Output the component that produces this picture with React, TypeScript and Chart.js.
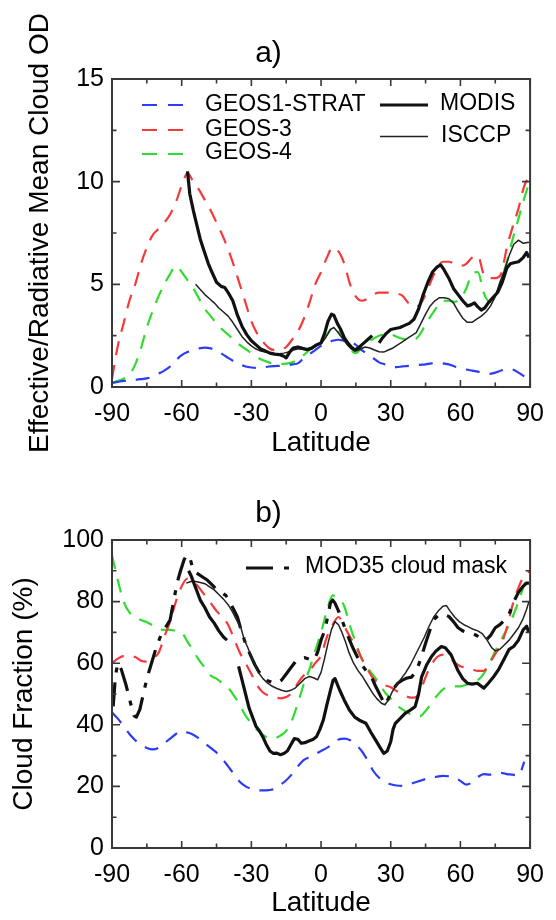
import React, { useEffect, useRef } from "react";
import { Chart, registerables } from "chart.js";

Chart.register(...registerables);

const FONT = '"Liberation Sans", Arial, Helvetica, sans-serif';

// Shared 2.5-degree latitude grid for the model curves
const LAT = [
  -90, -87.5, -85, -82.5, -80, -77.5, -75, -72.5, -70, -67.5, -65, -62.5,
  -60, -57.5, -55, -52.5, -50, -47.5, -45, -42.5, -40, -37.5, -35, -32.5,
  -30, -27.5, -25, -22.5, -20, -17.5, -15, -12.5, -10, -7.5, -5, -2.5,
  0, 2.5, 5, 7.5, 10, 12.5, 15, 17.5, 20, 22.5, 25, 27.5,
  30, 32.5, 35, 37.5, 40, 42.5, 45, 47.5, 50, 52.5, 55, 57.5,
  60, 62.5, 65, 67.5, 70, 72.5, 75, 77.5, 80, 82.5, 85, 87.5,
  90,
];

const X_TICK_STEP = 30;

// ---------- panel a: effective/radiative mean cloud optical depth ----------
const GEOS1_OD = [
  0.2, 0.25, 0.3, 0.3, 0.35, 0.38, 0.42, 0.5, 0.65, 0.8, 1.0, 1.3,
  1.55, 1.7, 1.8, 1.88, 1.92, 1.88, 1.75, 1.6, 1.42, 1.25, 1.1, 1.0,
  0.95, 0.93, 0.95, 1.0, 1.02, 1.03, 1.05, 1.1, 1.15, 1.4, 1.6, 1.8,
  2.0, 2.15, 2.25, 2.3, 2.25, 2.2, 2.05, 1.8, 1.6, 1.4, 1.2, 1.1,
  1.0, 0.97, 1.0, 1.03, 1.05, 1.08, 1.1, 1.15, 1.16, 1.15, 1.1, 1.0,
  0.92, 0.85, 0.8, 0.75, 0.68, 0.64, 0.7, 0.8, 0.88, 0.85, 0.7, 0.52,
  null,
];
const GEOS3_OD = [
  0.4, 2.0, 3.1, 4.2, 5.0, 6.0, 6.8, 7.4, 7.7, 8.0, 8.4, 9.0,
  9.8, 10.4, 10.0, 9.6, 9.1, 8.6, 8.0, 7.4, 6.7, 5.9, 5.0, 4.1,
  3.2, 2.6, 2.2, 1.9, 1.8, 1.8, 1.95, 2.3, 2.7, 3.3, 4.1, 5.0,
  5.6, 6.3, 6.8, 6.6, 6.0, 5.0, 4.4, 4.2, 4.3, 4.5, 4.6, 4.6,
  4.6, 4.55, 4.45, 4.1, 3.9, 4.0, 4.5, 5.2, 5.8, 6.1, 6.1, 6.0,
  5.9, 6.0, 6.3, 6.4, 5.5, 5.3, 5.3, 5.5, 6.8, 7.8, 8.7, 9.8,
  10.3,
];
const GEOS4_OD = [
  0.2, 0.3, 0.4, 0.6, 1.1, 1.9, 2.9, 3.7, 4.4, 5.0, 5.5, 5.9,
  5.6, 5.2, 4.8, 4.3, 3.8, 3.45, 3.1, 2.8, 2.55, 2.3, 2.05, 1.85,
  1.65, 1.45, 1.3, 1.2, 1.12, 1.12, 1.14, 1.2, 1.32, 1.55, 1.8, 2.05,
  2.3, 2.55, 2.9, 2.75, 2.35, 1.85, 1.65, 1.9, 2.15, 2.35, 2.5, 2.55,
  2.55, 2.45, 2.35, 2.3, 2.3, 2.55, 3.05, 3.5, 3.9, 4.2, 4.2, 4.15,
  4.3, 4.8, 5.5, 5.6, 4.6, 4.15, 4.4, 5.2, 6.1, 7.2, 8.2, 9.2,
  10.1,
];
const MODIS_OD_LAT = [
  -57.5, -56.5, -55, -53.5, -52, -50, -48.5, -47, -45, -43,
  -41.5, -40, -38, -36, -34, -32, -30, -28, -26, -24,
  -22, -20, -18, -16, -15, -13.5, -12, -10, -8, -6,
  -4, -2, 0, 1.5, 3, 4.5, 5.5, 7, 8.5, 10,
  11.5, 13, 14.5, 16, 17.5, 19, 20.5, 22, 23.5, 25,
  26.5, 28, 30, 32, 34, 36, 38, 40, 42, 44,
  46, 48, 50, 51.5, 53, 55, 57, 59, 61, 63,
  64.5, 66, 67.5, 69, 70.5, 72, 74, 76, 78, 80,
  81.5, 83, 85, 87, 88.5, 89.5,
];
const MODIS_OD = [
  10.5, 9.4, 8.6, 7.9, 7.2, 6.5, 6.0, 5.6, 5.1, 4.9,
  4.85, 4.6, 4.2, 3.5, 2.95, 2.55, 2.25, 2.05, 1.85, 1.75,
  1.65, 1.6, 1.58, 1.5, 1.42, 1.7, 1.9, 1.95, 1.88, 1.82,
  1.9, 2.05, 2.15, 2.6, 3.2, 3.55, 3.5, 3.1, 2.8, 2.4,
  2.15, 1.95, 1.8, 1.9, 2.05, 2.2, 2.35, 2.5, null, 2.15,
  2.4, 2.6, 2.8, 2.85, 2.9, 3.0, 3.1, 3.3, 3.8, 4.5,
  5.1, 5.6, 5.85, 5.95, 5.7, 5.3, 4.8, 4.5, 4.2, 3.95,
  4.0, 4.1, 3.9, 3.75, 3.85, 4.1, 4.35, 4.6, 5.1, 5.8,
  6.0, 6.05, 6.1, 6.3, 6.55, 6.3,
];
const ISCCP_OD_LAT = [
  -54, -52, -50, -48, -46, -44, -42, -40, -38, -36,
  -34, -32, -30, -28, -26, -24, -22, -20, -18, -16,
  -14, -12, -10, -8, -6, -4, -2, 0, 2, 4,
  5.5, 7, 9, 11, 13, 15, 17, 19, 21, 23,
  25, 27, 29, 31, 33, 35, 37, 39, 41, 43,
  45, 47, 49, 51, 53, 55, 57, 59, 61, 63,
  65, 67, 69, 71, 73, 75, 77, 79, 81, 83,
  85, 87, 89.5,
];
const ISCCP_OD = [
  5.0, 4.75, 4.5, 4.3, 4.1, 3.85, 3.65, 3.45, 3.15, 2.8,
  2.45, 2.2, 2.0, 1.85, 1.75, 1.7, 1.66, 1.62, 1.62, 1.65,
  1.7, 1.8, 1.85, 1.85, 1.8, 1.85, 2.0, 2.1, 2.4, 2.8,
  2.9, 2.7, 2.4, 2.1, 1.85, 1.75, 1.85, 1.95, 1.9, 1.8,
  1.72, 1.7, 1.8, 1.9, 2.05, 2.2, 2.35, 2.5, 2.65, 3.1,
  3.55, 3.95, 4.2, 4.35, 4.35, 4.3, 4.1, 3.7, 3.35, 3.15,
  3.15, 3.3, 3.45, 3.65, 3.95, 4.4, 5.1, 5.7, 6.4, 6.95,
  7.15, 7.0, 7.05,
];
const OD_TICK_STEP = 5;

// ---------- panel b: cloud fraction (%) ----------
const GEOS1_CF = [
  44, 42, 39.5, 37, 35, 33.5, 32.5, 32, 32.5, 34, 35.5, 37,
  38, 37.5, 36.8, 35.5, 34, 32.5, 31, 29, 26.5, 24, 21.5, 20,
  19.2, 18.8, 18.7, 18.8, 19.2, 20.5, 22, 24, 26.5, 28.5, 29.5, 30.5,
  31.5, 32.5, 33.8, 35.2, 35.5, 35, 33.5, 31.5, 28.5, 25, 22.8, 21.5,
  20.7, 20.3, 20.2, 20.5, 21.2, 21.8, 22.4, 22.8, 23.2, 23.4, 23.3, 23.0,
  21.8, 20.6, 21.3, 23.0, 24.0, 23.8, 24.3, 24.4, 24.0, 23.8, 23.5, 28,
  null,
];
const GEOS3_CF = [
  60, 61.5, 62.3, 62.3, 62, 60.8, 60.5, 61.6, 63.3, 68.5, 73.5, 80,
  85, 87.5, 86.5, 84.5, 82, 79.5, 77, 75, 72.5, 68, 63.5, 60,
  56.5, 52.8, 50.5, 49.5, 49, 48.6, 49, 50.5, 53.5, 56, 57.5, 60,
  62.5, 68.5, 72.5, 75, 72, 68.5, 65.5, 61.5, 58, 55, 53.5, 52.8,
  52.2, 51, 50, 49, 48.8, 50.5, 55.5, 59.5, 62, 62.8, 61.8, 60.3,
  59, 58.5, 58, 57.5, 57.5, 60, 63, 66, 71.5, 79, 84.5, 88.5,
  90,
];
const GEOS4_CF = [
  95, 87, 80, 76.5, 75, 74, 73.3, 72.3, 71.3, 70.8, 70.8, 70.5,
  70, 67, 64, 61, 58.5, 56, 55, 53.5, 52, 49.5, 46.5, 43,
  40.5, 38.3, 36.7, 35.7, 35.7, 36.5, 38, 41.5, 47, 53, 58, 64,
  70, 77, 82, 81, 78.5, 72, 66.5, 61.5, 58.5, 56, 53.5, 50.5,
  48.5, 46.5, 45, 43.8, 43, 42.8, 44.5, 47, 49.5, 51.5, 52.3, 52.5,
  52.5, 53, 53.7, 54.5, 56.5, 60, 64, 67.5, 71, 75, 80, 85.5,
  88,
];
const MODIS_CF_LAT = [
  -57, -56, -54, -52, -50, -48, -46, -44, -42, -40.5,
  -38, -35.5, -34, -32.5, -31, -29.5, -28, -26.5, -25, -23.5,
  -22, -20.5, -19, -17.5, -16, -14.5, -13, -11.5, -10, -8.5,
  -7, -5, -3.5, -2, -0.5, 1, 2.5, 4, 5.2, 6,
  8, 10, 12.2, 14.5, 16.5, 19.3, 21.5, 23.5, 25.5, 27,
  28.5, 30, 31, 32, 34, 36.2, 38.5, 40.5, 42, 43.3,
  45.5, 47.5, 49.5, 51.8, 53.5, 56, 58.8, 61, 63, 65,
  67.3, 70.1, 72, 74.3, 76.5, 78.6, 81, 83, 85, 87,
  88.5, 89.5,
];
const MODIS_CF = [
  90, 88.5, 84.5, 80.5, 78, 75, 73, 70.5, 68.5, 67.5,
  null, 59, 54.5, 50, 45.5, 42.5, 39.5, 38, 36, 33.5,
  31.5, 30.7, 30.8, 30.3, 30.7, 31.5, 33.5, 35.5, 35.3, 34,
  34.2, 34.8, 35.2, 36.1, 38.5, 41.6, 46.5, 51, 54.5, 55,
  51.3, 48, 44.8, 42.5, 41.5, 40.5, 37.5, 35, 32.5, 30.7,
  31.5, 34.5, 38.5, 40.5, 42, 43.7, 44.8, 45.9, 50, 55.6,
  59.5, 62.1, 64, 65.4, 65, 62.7, 57.8, 55, 53.5, 53.2,
  53.5, 51.9, 53.5, 55.6, 58, 61, 64.5, 65.5, 67.5, 70.8,
  72, 70,
];
const ISCCP_CF_LAT = [
  -58, -56, -54, -52, -50, -48, -46, -44, -42, -40,
  -38, -36, -34.5, -33, -31.5, -30, -28.5, -27, -25, -23,
  -21, -19, -17, -15, -13, -11, -9, -7, -5, -3,
  -1.5, 0, 1.5, 3, 4.5, 6, 7.5, 9, 10.5, 12,
  14, 16, 18, 20, 22, 24, 26, 27.5, 29, 30.5,
  32.5, 34.5, 36.5, 38.5, 40.5, 42.5, 44.5, 46.5, 48.5, 50.5,
  52.5, 54, 55.5, 57.5, 59.5, 61.5, 63.5, 65.5, 67.5, 69.5,
  71.5, 73.5, 75, 77, 79, 81, 83, 85, 87, 88.5,
  89.5,
];
const ISCCP_CF = [
  86, 86.5, 86.5, 86.2, 85.8, 84.8, 83.8, 82.3, 80.8, 79,
  76.5, 73.5, 71.5, 67.5, 65, 62, 59.5, 57, 55, 53.5,
  52.5, 51.8, 51.2, 50.8, 51.2, 52, 53.5, 55, 55.7, 55.2,
  54.6, 57, 61.5, 66.5, 71, 73.5, 72.5, 70, 67, 63.5,
  60, 57.5, 55.5, 53, 50.5, 48.5, 47, 46.5, 48, 50.5,
  53, 55, 57, 59.5, 62.5, 65.5, 68.5, 72, 75, 77,
  78.5, 78.7, 77, 75, 73.5, 72.5, 71.8, 71, 70.5, 69.5,
  67.5, 65, 64, 64.5, 66, 67.5, 69.5, 71.5, 74.5, 77.5,
  80,
];
const MOD35_CF_LAT = [
  -89.5, -88.5, -87.5, -86, -84, -82, -80.5, -79.5, -78, -76.5,
  -75, -73, -71, -69, -67, -65, -63.5, -62, -60.5, -59,
  -58, -57, -56, -55, -53, -51, -49, -47, -45, -43,
  -41, -39.5, -38, -36, -34.5, -33, -31.5, -30, -28.5, -27,
  -25, -23, -21, -19, -17, -15, -13, -11, -9, -7,
  -5, -3, -1.5, 0, 1.5, 3, 4, 5, 6, 7.5,
  9, 10.5, 12, 14, 16, 18, 20, 22, 23.5, 25.5,
  27.5, 29, 31, 33, 35, 37, 39, 41, 43, 45,
  47, 49, 51, 53, 55, 57, 59, 61, 63, 65,
  67, 69, 71, 73, 75, 77, 79, 81, 83, 85,
  87, 88.5, 89.5,
];
const MOD35_CF = [
  46, 56, 60, 58, 53, 47, 43, 42.5, 45, 50,
  55, 60, 65, 69, 71.5, 74, 80, 86, 90, 93.5,
  95, 95, 93, 90, 89, 88, 87, 85.5, 84, 83,
  82, 80.5, 78, 75, 71, 67.5, 64.5, 62, 59.5, 57.5,
  55.5, 54.3, 53.8, 53.5, 54.5, 56.5, 58.5, 60.5, 61.5, 61.8,
  61.3, 61, 63.5, 67.5, 70.5, 75.5, 79.5, 80.5, 79.5, 77,
  74, 71, 68, 64.5, 61.5, 59, 57, 55, 52.5, 49.5,
  46.5, 48.5, 51.5, 53.5, 54.5, 55.2, 55.5, 57.5, 61.5, 66.5,
  71, 74.5, 75.8, 75.8, 75.2, 73.5, 71.5, 70.5, 70, 69.7,
  69, 68, 67.5, 69, 71.5, 72.5, 74, 76, 80, 83,
  85, 86, 86,
];
const CF_TICK_STEP = 20;

const BLUE = "#2b3df4";
const RED = "#f43a3a";
const GREEN = "#2fdc2f";
const BLACK = "#111111";
const MODEL_DASH = [14, 10];
const MOD35_DASH = [24, 10, 5, 10];

function points(xs: number[], ys: (number | null)[]) {
  return xs.map((x, i) => ({ x, y: ys[i] }));
}

function series(
  label: string,
  data: { x: number; y: number | null }[],
  color: string,
  width: number,
  dash: number[],
  smooth: boolean
) {
  return {
    label,
    data,
    borderColor: color,
    backgroundColor: color,
    borderWidth: width,
    borderDash: dash,
    borderCapStyle: "butt",
    borderJoinStyle: "round",
    pointRadius: 0,
    pointHoverRadius: 0,
    fill: false,
    spanGaps: false,
    tension: smooth ? 0.35 : 0,
    cubicInterpolationMode: smooth ? "monotone" : "default",
  };
}

// Box frame with inward major/minor ticks on all four sides
const frameTicks = {
  id: "frameTicks",
  afterDatasetsDraw(chart: any, _args: any, opts: any) {
    const { ctx, chartArea, scales } = chart;
    const { left, right, top, bottom } = chartArea;
    const xs = scales.x;
    const ys = scales.y;
    ctx.save();
    ctx.setLineDash([]);
    ctx.strokeStyle = "#383838";
    ctx.lineWidth = 2;
    ctx.strokeRect(left, top, right - left, bottom - top);
    ctx.lineWidth = 1.6;
    ctx.beginPath();
    for (let v = xs.min; v <= xs.max + 1e-9; v += opts.xMinor) {
      const p = xs.getPixelForValue(v);
      const len = Math.abs(v % opts.xMajor) < 1e-9 ? 7 : 4.5;
      ctx.moveTo(p, bottom);
      ctx.lineTo(p, bottom - len);
      ctx.moveTo(p, top);
      ctx.lineTo(p, top + len);
    }
    for (let v = ys.min; v <= ys.max + 1e-9; v += opts.yMinor) {
      const p = ys.getPixelForValue(v);
      const len = Math.abs(v % opts.yMajor) < 1e-9 ? 8 : 4.5;
      ctx.moveTo(left, p);
      ctx.lineTo(left + len, p);
      ctx.moveTo(right, p);
      ctx.lineTo(right - len, p);
    }
    ctx.stroke();
    ctx.restore();
  },
};

// In-plot legend: line sample plus the dataset's label
const panelLegend = {
  id: "panelLegend",
  afterDraw(chart: any, _args: any, opts: any) {
    const { ctx } = chart;
    ctx.save();
    ctx.font = `${opts.size}px ${FONT}`;
    ctx.textBaseline = "middle";
    ctx.textAlign = "left";
    for (const it of opts.items) {
      const ds = chart.data.datasets[it.index];
      ctx.strokeStyle = ds.borderColor;
      ctx.lineWidth = ds.borderWidth;
      ctx.lineCap = "butt";
      ctx.setLineDash(it.dash || []);
      ctx.beginPath();
      ctx.moveTo(it.x1, it.y);
      ctx.lineTo(it.x2, it.y);
      ctx.stroke();
      ctx.setLineDash([]);
      ctx.fillStyle = "#000";
      ctx.fillText(ds.label, it.tx, it.ty);
    }
    ctx.restore();
  },
};

function baseOptions(
  title: string,
  titleBottom: number,
  yTitle: string,
  yTitleOffset: number,
  yMax: number,
  yStep: number,
  yMinor: number,
  xAxisHeight: number,
  legendItems: any[]
) {
  return {
    animation: false,
    responsive: false,
    events: [],
    layout: { padding: { left: 0, right: 19, top: 0, bottom: 0 } },
    plugins: {
      legend: { display: false },
      tooltip: { enabled: false },
      title: {
        display: true,
        text: title,
        color: "#000",
        font: { family: FONT, size: 30, weight: "normal", lineHeight: 1 },
        padding: { top: 39, bottom: titleBottom },
      },
      frameTicks: { xMajor: X_TICK_STEP, xMinor: X_TICK_STEP / 2, yMajor: yStep, yMinor },
      panelLegend: { size: 23, items: legendItems },
    },
    scales: {
      x: {
        type: "linear",
        min: -90,
        max: 90,
        grid: { display: false, drawTicks: false },
        border: { display: false },
        ticks: {
          stepSize: X_TICK_STEP,
          color: "#000",
          font: { family: FONT, size: 25 },
          padding: 12,
          maxRotation: 0,
          autoSkip: false,
        },
        title: {
          display: true,
          text: "Latitude",
          color: "#000",
          font: { family: FONT, size: 28, lineHeight: 1 },
          padding: { top: 0, bottom: 3 },
        },
        afterFit: (s: any) => {
          s.height = xAxisHeight;
        },
      },
      y: {
        type: "linear",
        min: 0,
        max: yMax,
        grid: { display: false, drawTicks: false },
        border: { display: false },
        ticks: {
          stepSize: yStep,
          color: "#000",
          font: { family: FONT, size: 25 },
          padding: 8,
        },
        title: {
          display: true,
          text: yTitle,
          color: "#000",
          font: { family: FONT, size: 28, lineHeight: 1 },
          padding: { top: yTitleOffset, bottom: 0 },
        },
        afterFit: (s: any) => {
          s.width = 112;
        },
      },
    },
  };
}

function useChart(ref: React.RefObject<HTMLCanvasElement>, build: () => any) {
  useEffect(() => {
    if (!ref.current) return;
    const chart = new Chart(ref.current, build());
    return () => chart.destroy();
  }, []);
}

export default function App() {
  const refA = useRef<HTMLCanvasElement>(null);
  const refB = useRef<HTMLCanvasElement>(null);

  useChart(refA, () => ({
    type: "line",
    data: {
      datasets: [
        series("MODIS", points(MODIS_OD_LAT, MODIS_OD), BLACK, 3.2, [], false),
        series("ISCCP", points(ISCCP_OD_LAT, ISCCP_OD), "#222", 1.5, [], false),
        series("GEOS1-STRAT", points(LAT, GEOS1_OD), BLUE, 2.2, MODEL_DASH, true),
        series("GEOS-3", points(LAT, GEOS3_OD), RED, 2.2, MODEL_DASH, true),
        series("GEOS-4", points(LAT, GEOS4_OD), GREEN, 2.2, MODEL_DASH, true),
      ],
    },
    options: baseOptions(
      "a)",
      10,
      "Effective/Radiative Mean Cloud OD",
      26,
      15,
      OD_TICK_STEP,
      OD_TICK_STEP / 2,
      73,
      [
        { index: 2, x1: 142, x2: 183, y: 105, dash: [15, 11], tx: 205, ty: 105 },
        { index: 3, x1: 142, x2: 183, y: 130, dash: [15, 11], tx: 205, ty: 130 },
        { index: 4, x1: 142, x2: 183, y: 154, dash: [15, 11], tx: 205, ty: 153 },
        { index: 0, x1: 380, x2: 428, y: 105, tx: 440, ty: 104 },
        { index: 1, x1: 380, x2: 428, y: 136.5, tx: 441, ty: 135.5 },
      ]
    ),
    plugins: [frameTicks, panelLegend],
  }));

  useChart(refB, () => ({
    type: "line",
    data: {
      datasets: [
        series("MODIS", points(MODIS_CF_LAT, MODIS_CF), BLACK, 3.2, [], false),
        series("ISCCP", points(ISCCP_CF_LAT, ISCCP_CF), "#222", 1.5, [], false),
        series("MOD35 cloud mask", points(MOD35_CF_LAT, MOD35_CF), BLACK, 3.2, MOD35_DASH, false),
        series("GEOS1-STRAT", points(LAT, GEOS1_CF), BLUE, 2.2, MODEL_DASH, true),
        series("GEOS-3", points(LAT, GEOS3_CF), RED, 2.2, MODEL_DASH, true),
        series("GEOS-4", points(LAT, GEOS4_CF), GREEN, 2.2, MODEL_DASH, true),
      ],
    },
    options: baseOptions(
      "b)",
      11,
      "Cloud Fraction (%)",
      10,
      100,
      CF_TICK_STEP,
      CF_TICK_STEP / 2,
      72,
      [{ index: 2, x1: 246, x2: 289, y: 108, dash: [27, 11, 5, 60], tx: 305, ty: 106.5 }]
    ),
    plugins: [frameTicks, panelLegend],
  }));

  return (
    <div style={{ position: "absolute", left: 0, top: 0, width: 556, height: 920, background: "#fff" }}>
      <canvas ref={refA} width={556} height={460} style={{ display: "block" }} />
      <canvas ref={refB} width={556} height={460} style={{ display: "block" }} />
    </div>
  );
}
